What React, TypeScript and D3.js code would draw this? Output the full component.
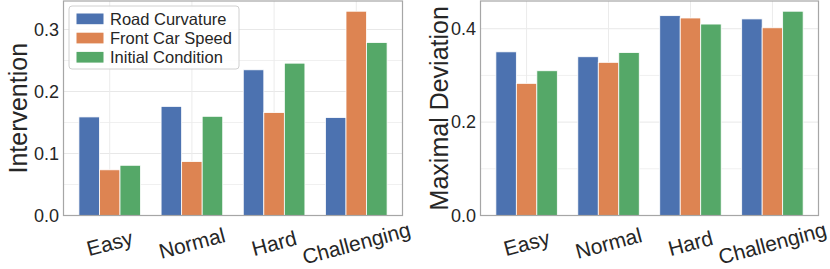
import React from 'react';
import { scaleBand, scaleLinear, max } from 'd3';

const categories = ['Easy', 'Normal', 'Hard', 'Challenging'];
const series = ['Road Curvature', 'Front Car Speed', 'Initial Condition'];
const colors = ['#4C72B0', '#DD8452', '#55A868'];

// Intervention, one array per series (Easy, Normal, Hard, Challenging)
const interventionRoad = [0.159, 0.176, 0.235, 0.158];
const interventionSpeed = [0.0737, 0.087, 0.166, 0.3295];
const interventionInit = [0.081, 0.160, 0.2457, 0.279];

// Maximal deviation
const deviationRoad = [0.3505, 0.340, 0.428, 0.421];
const deviationSpeed = [0.283, 0.328, 0.423, 0.402];
const deviationInit = [0.310, 0.349, 0.410, 0.4375];

const interventionTicks = [0, 0.1, 0.2, 0.3];
const interventionMinor = [0.05, 0.15, 0.25];
const deviationTicks = [0, 0.2, 0.4];
const deviationMinor = [0.1, 0.3];

const width = 830;
const height = 269;
const top = 1;
const bottom = 215.5;
const font = '"Liberation Sans", Arial, sans-serif';

const Panel = ({ left, right, data, ticks, minor, label, labelX, legend }) => {
  const xScale = scaleBand()
    .domain(categories)
    .range([left, right])
    .paddingInner(0.25)
    .paddingOuter(0.1875);
  const sub = scaleBand().domain(series).range([0, xScale.bandwidth()]);
  const yMax = max(data.flat()) * 1.05;
  const yScale = scaleLinear().domain([0, yMax]).range([bottom, top]);

  return (
    <g>
      {/* grid */}
      {minor.map(t => (
        <line key={'m' + t} x1={left} x2={right} y1={yScale(t)} y2={yScale(t)} stroke="#f0f0f0" strokeWidth={1} />
      ))}
      {ticks.map(t => (
        <line key={'g' + t} x1={left} x2={right} y1={yScale(t)} y2={yScale(t)} stroke="#e8e8e8" strokeWidth={1} />
      ))}
      {categories.map(c => {
        const cx = xScale(c) + xScale.bandwidth() / 2;
        return <line key={'v' + c} x1={cx} x2={cx} y1={top} y2={bottom} stroke="#ebebeb" strokeWidth={1} />;
      })}

      {/* bars */}
      {series.map((s, si) =>
        categories.map((c, ci) => (
          <rect
            key={s + c}
            x={xScale(c) + sub(s)}
            y={yScale(data[si][ci])}
            width={sub.bandwidth()}
            height={bottom - yScale(data[si][ci])}
            fill={colors[si]}
            stroke="#ffffff"
            strokeWidth={0.8}
          />
        ))
      )}

      {/* spines */}
      <rect x={left} y={top} width={right - left} height={bottom - top} fill="none" stroke="#a6a6a6" strokeWidth={1.2} />

      {/* y ticks */}
      {ticks.map(t => (
        <text key={'t' + t} x={left - 4.5} y={yScale(t)} textAnchor="end" dominantBaseline="central"
          fontFamily={font} fontSize={18} fill="#262626">
          {t.toFixed(1)}
        </text>
      ))}

      {/* x ticks */}
      {categories.map(c => {
        const cx = xScale(c) + xScale.bandwidth() / 2;
        return (
          <text key={'x' + c} x={cx} y={243} textAnchor="middle" dominantBaseline="central"
            fontFamily={font} fontSize={21} fill="#262626" transform={`rotate(-15, ${cx}, 243)`}>
            {c}
          </text>
        );
      })}

      {/* y label */}
      <text x={labelX} y={(top + bottom) / 2} textAnchor="middle" fontFamily={font} fontSize={25} fill="#262626"
        transform={`rotate(-90, ${labelX}, ${(top + bottom) / 2})`}>
        {label}
      </text>

      {legend && (
        <g>
          <rect x={69} y={6} width={170} height={63} rx={3} fill="#ffffff" fillOpacity={0.85} stroke="#d0d0d0" strokeWidth={1} />
          {series.map((s, i) => (
            <g key={'l' + s}>
              <rect x={76.5} y={13.5 + i * 19.2} width={27} height={10.7} fill={colors[i]} />
              <text x={110} y={19 + i * 19.2} dominantBaseline="central" fontFamily={font} fontSize={16.5} fill="#262626">
                {s}
              </text>
            </g>
          ))}
        </g>
      )}
    </g>
  );
};

const App = () => {
  return (
    <div style={{ position: 'absolute', left: 0, top: 0 }}>
      <svg width={width} height={height} style={{ display: 'block', background: '#fff' }}>
        <Panel
          left={63.5}
          right={402.5}
          data={[interventionRoad, interventionSpeed, interventionInit]}
          ticks={interventionTicks}
          minor={interventionMinor}
          label="Intervention"
          labelX={27}
          legend
        />
        <Panel
          left={480.5}
          right={818.5}
          data={[deviationRoad, deviationSpeed, deviationInit]}
          ticks={deviationTicks}
          minor={deviationMinor}
          label="Maximal Deviation"
          labelX={448}
          legend={false}
        />
      </svg>
    </div>
  );
};

export default App;
